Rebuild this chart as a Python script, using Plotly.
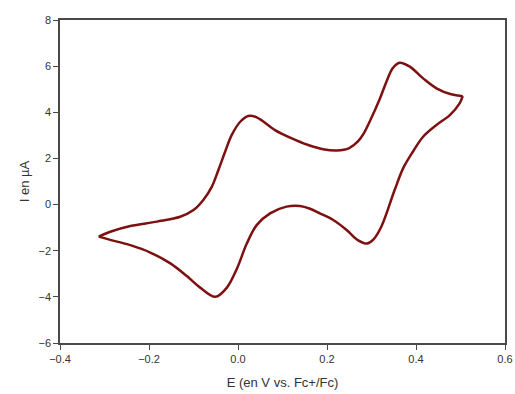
import plotly.graph_objects as go

# Forward scan (anodic branch), from left vertex to right vertex
E_forward = [-0.313, -0.287, -0.242, -0.182, -0.130, -0.100, -0.078, -0.059, -0.044, -0.029,
             -0.014, 0.005, 0.023, 0.042, 0.083, 0.121, 0.158, 0.191, 0.222, 0.250,
             0.270, 0.283, 0.296, 0.319, 0.334, 0.348, 0.363, 0.386, 0.416,
             0.446, 0.479, 0.505]
I_forward = [-1.39, -1.18, -0.93, -0.74, -0.53, -0.24, 0.20, 0.77, 1.50, 2.29,
             3.02, 3.59, 3.84, 3.78, 3.23, 2.87, 2.58, 2.40, 2.34, 2.45,
             2.75, 3.10, 3.60, 4.60, 5.35, 5.92, 6.15, 5.98, 5.47,
             5.04, 4.78, 4.70]

# Reverse scan (cathodic branch), from right vertex back to left vertex
E_reverse = [0.505, 0.498, 0.476, 0.446, 0.416, 0.393, 0.371, 0.352, 0.322,
             0.304, 0.290, 0.270, 0.244, 0.214, 0.184, 0.162, 0.139, 0.109, 0.072,
             0.042, 0.020, -0.003, -0.025, -0.051, -0.085, -0.115, -0.152, -0.197,
             -0.242, -0.287, -0.313]
I_reverse = [4.70, 4.39, 3.88, 3.45, 2.94, 2.29, 1.57, 0.63, -0.96,
             -1.52, -1.69, -1.55, -1.10, -0.67, -0.38, -0.18, -0.06, -0.09, -0.38,
             -0.89, -1.68, -2.80, -3.60, -4.00, -3.60, -3.10, -2.55, -2.08,
             -1.76, -1.53, -1.39]

x_ticks = [-0.4, -0.2, 0.0, 0.2, 0.4, 0.6]
y_ticks = [-6, -4, -2, 0, 2, 4, 6, 8]

line_style = dict(color="#7d1010", width=2.5, shape="spline", smoothing=1.0)

fig = go.Figure()
fig.add_trace(go.Scatter(x=E_forward, y=I_forward, mode="lines", line=line_style,
                         showlegend=False, hoverinfo="skip"))
fig.add_trace(go.Scatter(x=E_reverse, y=I_reverse, mode="lines", line=line_style,
                         showlegend=False, hoverinfo="skip"))

font_family = "Liberation Sans, Arial, sans-serif"
axis_common = dict(
    showgrid=False, zeroline=False,
    showline=True, linecolor="#4a4a4a", linewidth=1.5, mirror=True,
    ticks="outside", ticklen=5, tickcolor="#4a4a4a", tickwidth=1,
    automargin=False,
)
fig.update_layout(
    width=515, height=394,
    margin=dict(l=60, r=10, t=20, b=51),
    paper_bgcolor="white", plot_bgcolor="white",
    font=dict(family=font_family, size=11, color="#333333"),
    xaxis=dict(
        range=[-0.4, 0.6], tickvals=x_ticks, tickformat=".1f",
        title=dict(text="E (en V vs. Fc+/Fc)", font=dict(size=13, color="#333333"), standoff=14),
        **axis_common,
    ),
    yaxis=dict(
        range=[-6, 8], tickvals=y_ticks,
        title=dict(text="I en µA", font=dict(size=13, color="#333333"), standoff=6),
        **axis_common,
    ),
)

fig.write_html(
    "out.html",
    config={"displayModeBar": False},
    post_script="document.body.style.margin='0';document.body.style.overflow='hidden';",
)
